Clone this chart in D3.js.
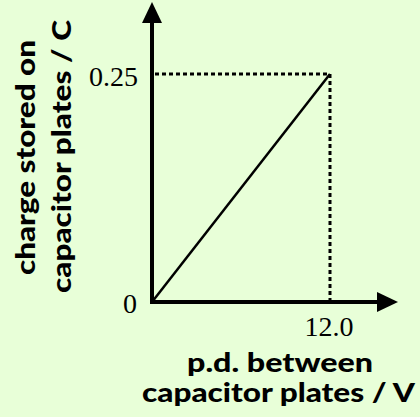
<!DOCTYPE html>
<html>
<head>
<meta charset="utf-8">
<script src="https://cdn.jsdelivr.net/npm/d3@7"></script>
<style>
  html, body { margin: 0; padding: 0; background: #E8FFD8; }
  svg { display: block; }
</style>
</head>
<body>
<svg id="chart" width="420" height="417"></svg>
<script>
// Charge on a capacitor grows in proportion to the p.d. across its plates
const voltage = [0, 12.0];          // p.d. / V
const charge = [0, 0.25];           // charge / C
const xTickLabels = ["12.0"];
const yTickLabels = ["0.25"];
const originLabel = ["0"];
const xTitle = ["p.d. between", "capacitor plates / V"];
const yTitle = ["charge stored on", "capacitor plates / C"];

const svg = d3.select("#chart");
const W = 420, H = 417;

const x = d3.scaleLinear().domain([0, 12]).range([152, 330]);
const y = d3.scaleLinear().domain([0, 0.25]).range([302, 74]);

const ink = "#000";
const serif = "'Liberation Serif', 'Times New Roman', serif";
const titleFont = "Lato, 'Open Sans', sans-serif";

// background
svg.append("rect").attr("width", W).attr("height", H).attr("fill", "#E8FFD8");

// dotted guide lines from the end point to both axes
const xEnd = x(voltage[1]), yEnd = y(charge[1]);
svg.append("line")
  .attr("x1", x(0) + 3).attr("y1", yEnd).attr("x2", xEnd).attr("y2", yEnd)
  .attr("stroke", ink).attr("stroke-width", 3).attr("stroke-dasharray", "4,3");
svg.append("line")
  .attr("x1", xEnd).attr("y1", yEnd).attr("x2", xEnd).attr("y2", y(0) - 2)
  .attr("stroke", ink).attr("stroke-width", 3).attr("stroke-dasharray", "4,3");

// the Q–V line
const line = d3.line().x((d, i) => x(voltage[i])).y(d => y(d));
svg.append("path").datum(charge)
  .attr("d", line)
  .attr("fill", "none").attr("stroke", ink).attr("stroke-width", 2.5);

// axes with arrowheads
const x0 = x(0), y0 = y(0);
const xTip = 398, yTip = 2, head = 21, halfW = 10;
svg.append("line")
  .attr("x1", x0 - 2).attr("y1", y0).attr("x2", xTip - head + 1).attr("y2", y0)
  .attr("stroke", ink).attr("stroke-width", 4);
svg.append("line")
  .attr("x1", x0).attr("y1", y0 + 2).attr("x2", x0).attr("y2", yTip + head - 1)
  .attr("stroke", ink).attr("stroke-width", 4);
svg.append("path")
  .attr("d", `M${xTip},${y0} L${xTip - head},${y0 - halfW} L${xTip - head},${y0 + halfW} Z`)
  .attr("fill", ink);
svg.append("path")
  .attr("d", `M${x0},${yTip} L${x0 - halfW},${yTip + head} L${x0 + halfW},${yTip + head} Z`)
  .attr("fill", ink);

// tick labels
svg.append("text").text(yTickLabels[0])
  .attr("x", x0 - 14).attr("y", yEnd + 12)
  .attr("text-anchor", "end")
  .style("font-family", serif).style("font-size", "28px").attr("fill", ink);
svg.append("text").text(xTickLabels[0])
  .attr("x", xEnd - 1).attr("y", y0 + 34)
  .attr("text-anchor", "middle")
  .style("font-family", serif).style("font-size", "28px").attr("fill", ink);
svg.append("text").text(originLabel[0])
  .attr("x", x0 - 15).attr("y", y0 + 11)
  .attr("text-anchor", "end")
  .style("font-family", serif).style("font-size", "28px").attr("fill", ink);

// axis titles
const titleStyle = sel => sel
  .style("font-family", titleFont).style("font-weight", "900")
  .style("font-size", "27px").attr("fill", ink)
  .attr("text-anchor", "middle");

const xLens = [186, 273];
const xBase = [372, 402];
xTitle.forEach((t, i) => {
  svg.append("text").text(t)
    .attr("x", [280, 278.5][i]).attr("y", xBase[i])
    .attr("textLength", xLens[i]).attr("lengthAdjust", "spacingAndGlyphs")
    .call(titleStyle);
});

const yLens = [235, 273];
const yBase = [35, 71];
yTitle.forEach((t, i) => {
  svg.append("text").text(t)
    .attr("transform", `translate(${yBase[i]},${[157.5, 156.5][i]}) rotate(-90)`)
    .attr("textLength", yLens[i]).attr("lengthAdjust", "spacingAndGlyphs")
    .call(titleStyle);
});
</script>
</body>
</html>
